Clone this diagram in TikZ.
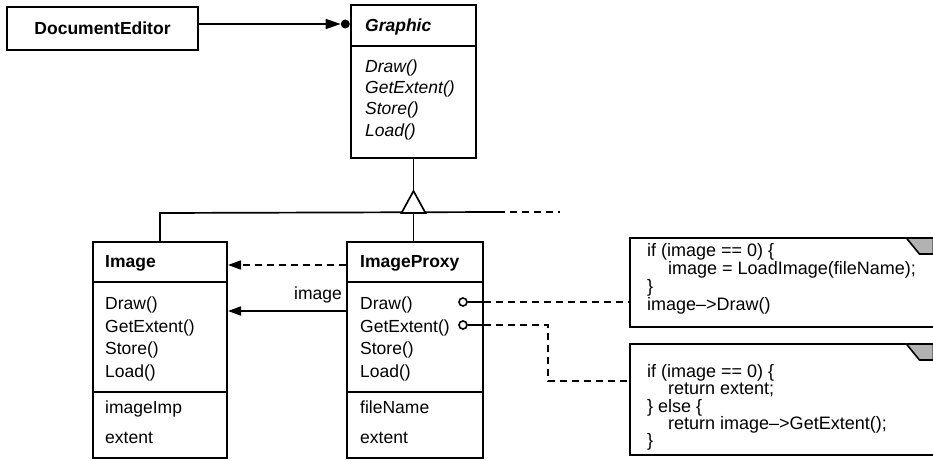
\documentclass[tikz,border=0pt]{standalone}
\usepackage{fontspec}
\setmainfont{Liberation Sans}
\usetikzlibrary{arrows.meta,calc}
\begin{document}
\begin{tikzpicture}[x=1pt,y=-1pt,
  classbox/.style={draw, line width=2pt, inner sep=0pt},
  divider/.style={line width=2pt},
  conn/.style={line width=1.7pt},
  dashconn/.style={line width=1.7pt, dash pattern=on 7pt off 5pt},
  txt/.style={inner sep=0pt, anchor=base west, font=\fontsize{17.5}{20}\selectfont},
  nametxt/.style={inner sep=0pt, anchor=base west, font=\fontsize{17.5}{20}\selectfont\bfseries},
  abstxt/.style={inner sep=0pt, anchor=base west, font=\fontsize{17.5}{20}\selectfont\itshape},
  absname/.style={inner sep=0pt, anchor=base west, font=\fontsize{17.5}{20}\selectfont\bfseries\itshape},
  notetxt/.style={inner sep=0pt, anchor=base west, font=\fontsize{18}{18}\selectfont},
  notebox/.style={inner sep=0pt, anchor=north west, minimum width=303pt},
  pin/.style={circle, draw, line width=1.6pt, inner sep=0pt, minimum size=8pt},
  tipa/.style={-{Triangle[length=13pt,width=9pt]}}
]
\useasboundingbox (0,0) rectangle (933,460);

% ---- boxes
\node[classbox, minimum width=191pt, minimum height=43pt,
      font=\fontsize{17.5}{20}\selectfont\bfseries] (de) at (102.5,28.5) {DocumentEditor};
\node[classbox, minimum width=125pt, minimum height=153pt] (g) at (413.5,81.5) {};
\node[classbox, minimum width=134pt, minimum height=216pt] (img) at (160,350) {};
\node[classbox, minimum width=136pt, minimum height=216pt] (ip) at (415,350) {};

% dividers
\draw[divider] ([yshift=-42pt]g.north west) -- ([yshift=-42pt]g.north east);
\draw[divider] ([yshift=-41pt]img.north west) -- ([yshift=-41pt]img.north east);
\draw[divider] ([yshift=-151pt]img.north west) -- ([yshift=-151pt]img.north east);
\draw[divider] ([yshift=-41pt]ip.north west) -- ([yshift=-41pt]ip.north east);
\draw[divider] ([yshift=-151pt]ip.north west) -- ([yshift=-151pt]ip.north east);

% Graphic texts
\node[absname] (gname) at (365,31.5) {Graphic};
\node[abstxt] (gm1) at (365,72) {Draw()};
\node[abstxt] (gm2) at (365,93.3) {GetExtent()};
\node[abstxt] (gm3) at (365,114.6) {Store()};
\node[abstxt] (gm4) at (365,136) {Load()};

% Image texts
\node[nametxt] (iname) at (105,267.5) {Image};
\node[txt] (im1) at (105,309.5) {Draw()};
\node[txt] (im2) at (105,332.2) {GetExtent()};
\node[txt] (im3) at (105,354.9) {Store()};
\node[txt] (im4) at (105,377.6) {Load()};
\node[txt] (ia1) at (105,413) {imageImp};
\node[txt] (ia2) at (105,443) {extent};

% ImageProxy texts
\node[nametxt] (pname) at (360,267.5) {ImageProxy};
\node[txt] (pm1) at (360,309.5) {Draw()};
\node[txt] (pm2) at (360,332.2) {GetExtent()};
\node[txt] (pm3) at (360,354.9) {Store()};
\node[txt] (pm4) at (360,377.6) {Load()};
\node[txt] (pa1) at (360,413) {fileName};
\node[txt] (pa2) at (360,443) {extent};

% ---- DocumentEditor -> Graphic
\coordinate (aggy) at ([yshift=4.5pt]de.east);
\node[circle, fill, inner sep=0pt, minimum size=9pt, anchor=east] (dot) at (aggy -| g.west) {};
\draw[conn, -{Triangle[length=15pt,width=10pt]}] (aggy) -- (dot.west);

% ---- inheritance
\coordinate (apex) at ([yshift=-32pt]g.south);
\coordinate (bar) at ([yshift=-54pt]g.south);
\coordinate (barL) at (img.north |- bar);
\coordinate (barR) at (498,212);
\coordinate (barD) at (560,212);
\draw[conn] (g.south) -- (apex);
\draw[conn] (img.north) -- (barL) -- (barR);
\draw[dashconn] (barR) -- (barD);
\draw[conn] (bar) -- (bar |- ip.north);
\draw[conn, fill=white, line join=miter] (apex) -- ($(apex)+(-12,22)$) -- ($(apex)+(12,22)$) -- cycle;

% ---- ImageProxy -> Image
\draw[dashconn, tipa] ([yshift=-24pt]ip.north west) -- ([yshift=-24pt]img.north east);
\draw[conn, tipa] ([yshift=-70pt]ip.north west) -- ([yshift=-70pt]img.north east);
\node[txt, anchor=base east] (lbl) at (342,299) {image};

% ---- notes
\node[notebox, minimum height=89pt] (n1) at (630,238) {};
\node[notebox, minimum height=111pt] (n2) at (630,344) {};
\foreach \n in {n1,n2}{
  \draw[divider] (\n.south east) -- (\n.south west) -- (\n.north west) -- ([xshift=-27pt]\n.north east);
  \filldraw[fill=gray!60, line width=1.6pt, line join=round]
     ([xshift=-27pt]\n.north east) -- (\n.north east) -- ([yshift=-16pt]\n.north east)
     -- ([xshift=-14pt,yshift=-16pt]\n.north east) -- cycle;
}
\node[notetxt] (n1l1) at (647,256) {if (image == 0) \{};
\node[notetxt] (n1l2) at (668,274) {image = LoadImage(fileName);};
\node[notetxt] (n1l3) at (647,292) {\}};
\node[notetxt] (n1l4) at (647,310.5) {image–>Draw()};

\node[notetxt] (n2l1) at (647,377.5) {if (image == 0) \{};
\node[notetxt] (n2l2) at (668,394.8) {return extent;};
\node[notetxt] (n2l3) at (647,412) {\} else \{};
\node[notetxt] (n2l4) at (668,429.3) {return image–>GetExtent();};
\node[notetxt] (n2l5) at (647,446.5) {\}};

% ---- pins to notes
\node[pin] (c1) at (463,302) {};
\node[pin] (c2) at (463,325) {};
\draw[conn] (c1.east) -- (c1.east -| ip.east);
\draw[dashconn] (c1.east -| ip.east) -- (c1.east -| n1.west);
\draw[conn] (c2.east) -- (c2.east -| ip.east);
\coordinate (bend) at (548,381);
\draw[dashconn] (c2.east -| ip.east) -| (bend) -- (bend -| n2.west);
\end{tikzpicture}
\end{document}
